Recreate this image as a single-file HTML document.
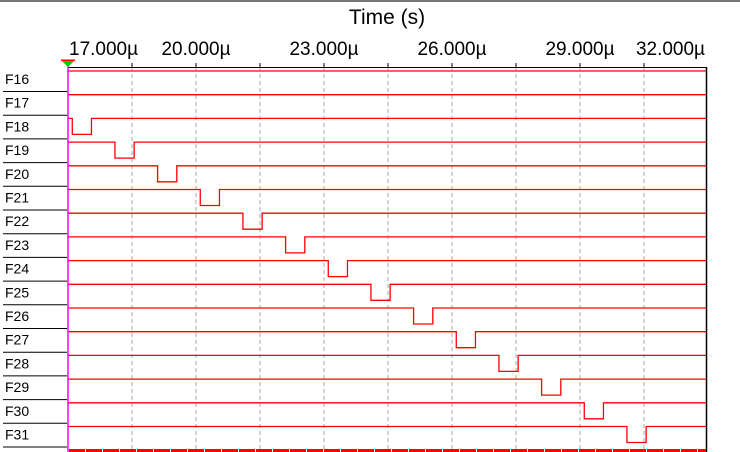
<!DOCTYPE html>
<html><head><meta charset="utf-8"><style>
body{margin:0;background:#fff;width:740px;height:452px;overflow:hidden}
svg{display:block;font-family:"Liberation Sans",sans-serif}
</style></head><body>
<svg id="c" width="740" height="452"></svg>
<script>
const signals=["F16","F17","F18","F19","F20","F21","F22","F23","F24","F25","F26","F27","F28","F29","F30","F31"];
const pulseStart=[null,null,17.1,18.1,19.1,20.1,21.1,22.1,23.1,24.1,25.1,26.1,27.1,28.1,29.1,30.1];
const pulseWidth=[0,0,0.45,0.45,0.45,0.45,0.45,0.45,0.45,0.45,0.45,0.45,0.45,0.45,0.45,0.45];
const tickVals=[17,20,23,26,29,32];
const tickLabels=["17.000µ","20.000µ","23.000µ","26.000µ","29.000µ","32.000µ"];
const gridVals=[18.5,20,21.5,23,24.5,26,27.5,29,30.5];
const x0=68,x1=706,t0=17,pxPerUs=128/3;
const X=t=>x0+(t-t0)*pxPerUs;
const Y=i=>71+i*23.7;
const svg=document.getElementById('c');const NS="http://www.w3.org/2000/svg";
function mk(tag,attrs,name,parent){const e=document.createElementNS(NS,tag);for(const k in attrs)e.setAttribute(k,attrs[k]);


(parent||svg).appendChild(e);return e;}
mk('rect',{x:0,y:0,width:740,height:2,fill:'#777'},'top-border');
const t=mk('text',{x:387,y:24,'font-size':21,'text-anchor':'middle',fill:'#000'},'x-axis-title');t.textContent='Time (s)';
gridVals.forEach(v=>{mk('line',{x1:X(v),x2:X(v),y1:67,y2:449,stroke:'#aaa','stroke-dasharray':'4,3'},'grid-line');
mk('line',{x1:X(v),x2:X(v),y1:63,y2:67,stroke:'#000'},'tick-mark');});
tickVals.forEach((v,i)=>{let x=X(v),a='middle';if(i==0){x=x0+1;a='start';}if(x>690){x=705;a='end';}
const e=mk('text',{x:x,y:55,'font-size':19,'text-anchor':a,fill:'#000'},'tick-label');e.textContent=tickLabels[i];});
mk('line',{x1:x0,x2:x1,y1:67.5,y2:67.5,stroke:'#000'},'plot-top-border');
mk('line',{x1:x1+0.5,x2:x1+0.5,y1:67,y2:452,stroke:'#000','stroke-width':1.5},'plot-right-border');
signals.forEach((s,i)=>{const y=Y(i);
const l=mk('text',{x:5,y:y+13,'font-size':14,fill:'#000'},'signal-label-'+s.toLowerCase());l.textContent=s;
mk('line',{x1:3,x2:67,y1:y+20.5,y2:y+20.5,stroke:'#000'},'row-separator');
let d;if(pulseStart[i]==null){d=`M${x0} ${y}H${x1}`;}else{const a=X(pulseStart[i]),b=X(pulseStart[i]+pulseWidth[i]);
d=`M${x0} ${y}H${a}V${y+16}H${b}V${y}H${x1}`;}
mk('path',{d:d,fill:'none',stroke:'#f00','stroke-width':1.3},'signal-'+s.toLowerCase());});
for(let x=x0+1;x<x1;x+=17){mk('rect',{x:x,y:449,width:Math.min(16,x1-x),height:3,fill:'#f00'},'bottom-marker');}
mk('line',{x1:68,x2:68,y1:62,y2:452,stroke:'#f0f','stroke-width':1.5},'cursor-line');
mk('path',{d:'M61 60H75L68 67Z',fill:'#0c0'},'cursor-handle');
mk('rect',{x:61,y:59.5,width:14,height:1.5,fill:'#f00'},'cursor-handle-top');
</script>
</body></html>
